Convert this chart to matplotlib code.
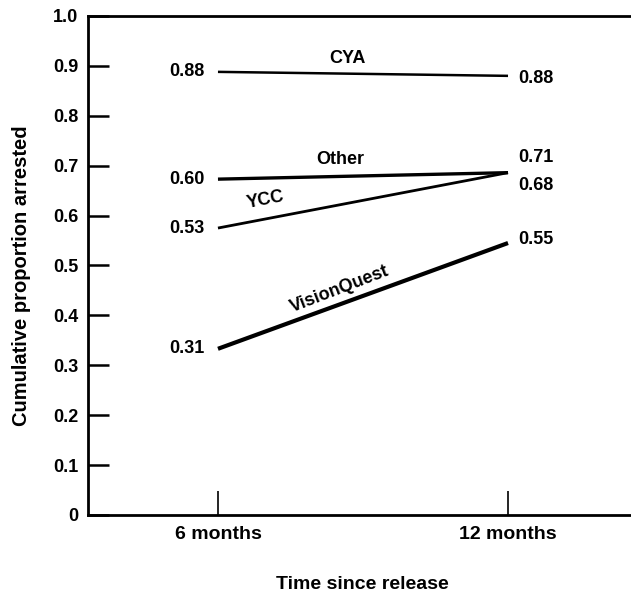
#!/usr/bin/env python3

import matplotlib
matplotlib.use("Agg")
import matplotlib.pyplot as plt

# data
periods = ["6 months", "12 months"]
programs = ["CYA", "Other", "YCC", "VisionQuest"]
# where the lines are drawn in the picture
cya = [0.888, 0.880]
other = [0.673, 0.686]
ycc = [0.575, 0.686]
visionquest = [0.333, 0.545]
# printed value labels
left_labels = ["0.88", "0.60", "0.53", "0.31"]
right_labels = ["0.88", "0.71", "0.68", "0.55"]
y_ticks = [0, 0.1, 0.2, 0.3, 0.4, 0.5, 0.6, 0.7, 0.8, 0.9, 1.0]
y_tick_labels = ["0", "0.1", "0.2", "0.3", "0.4", "0.5", "0.6", "0.7", "0.8", "0.9", "1.0"]

plt.rcParams["font.family"] = ["Liberation Sans", "DejaVu Sans"]
plt.rcParams["font.weight"] = "bold"
plt.rcParams["axes.labelweight"] = "bold"

fig = plt.figure(figsize=(6.31, 6.03), dpi=100)
ax = fig.add_axes([0.1395, 0.146, 0.8605, 0.8275])

x = [0, 1]
series = [cya, other, ycc, visionquest]
widths = [1.8, 2.4, 2.0, 3.0]
for vals, lw in zip(series, widths):
    ax.plot(x, vals, color="black", lw=lw, solid_capstyle="butt")

# value labels at both ends
right_y = [0.875, 0.717, 0.66, 0.552]
for vals, lab in zip(series, left_labels):
    ax.text(-0.045, vals[0], lab, ha="right", va="center", fontsize=13)
for ry, lab in zip(right_y, right_labels):
    ax.text(1.035, ry, lab, ha="left", va="center", fontsize=13)

# program names along the lines
ax.text(0.445, 0.915, "CYA", ha="center", va="center", fontsize=13)
ax.text(0.42, 0.713, "Other", ha="center", va="center", fontsize=13)
ax.text(0.165, 0.632, "YCC", ha="center", va="center", fontsize=13, rotation=11)
ax.text(0.42, 0.452, "VisionQuest", ha="center", va="center", fontsize=13, rotation=21)

ax.set_xlim(-0.448, 1.424)
ax.set_ylim(0, 1.0)
ax.set_xticks(x)
ax.set_xticklabels(periods, fontsize=14)
ax.set_yticks(y_ticks)
ax.set_yticklabels(y_tick_labels, fontsize=13)
ax.tick_params(axis="x", direction="in", length=17, width=1.2, pad=8)
ax.tick_params(axis="y", direction="in", length=15, width=1.8, pad=7)

ax.spines["right"].set_visible(False)
for s in ["left", "top", "bottom"]:
    ax.spines[s].set_linewidth(2)

ax.set_ylabel("Cumulative proportion arrested", fontsize=14.5)
ax.yaxis.set_label_coords(-0.105, 0.48)
ax.set_xlabel("Time since release", fontsize=14)
ax.xaxis.set_label_coords(0.505, -0.122)

plt.savefig("out.png", dpi=100)
